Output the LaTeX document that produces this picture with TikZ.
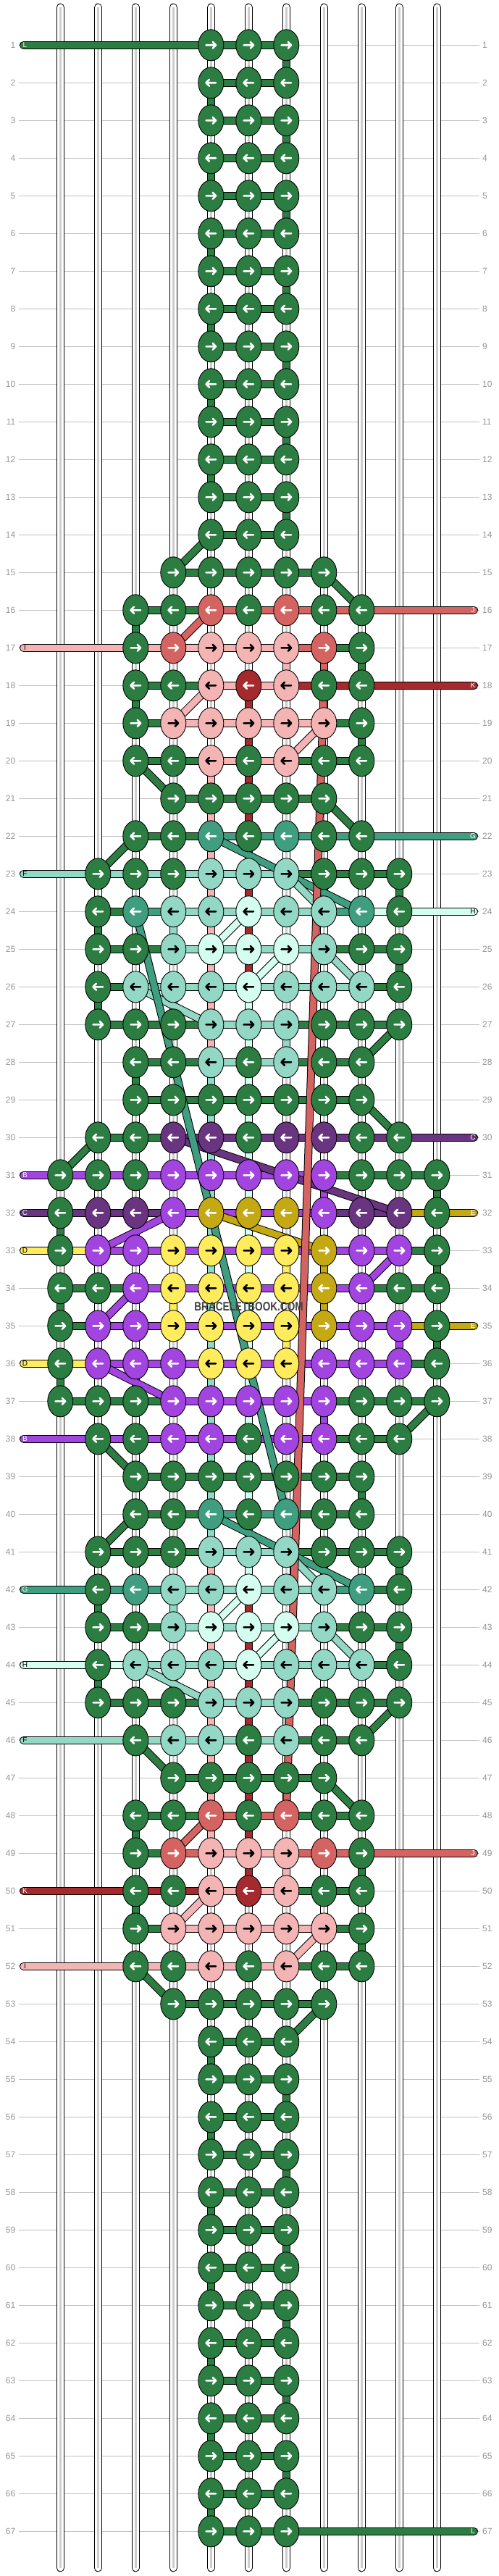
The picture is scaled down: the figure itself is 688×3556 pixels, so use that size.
\documentclass[tikz,border=0pt]{standalone}
\usepackage{fontspec}
\setmainfont{Liberation Sans}
\usetikzlibrary{shapes.geometric,calc}
\pgfdeclarelayer{back}
\pgfdeclarelayer{conn}
\pgfsetlayers{back,conn,main}
\definecolor{cG}{RGB}{44,125,66}
\definecolor{cR}{RGB}{212,100,98}
\definecolor{cP}{RGB}{245,180,180}
\definecolor{cK}{RGB}{165,42,46}
\definecolor{cT}{RGB}{64,158,128}
\definecolor{cF}{RGB}{147,216,196}
\definecolor{cH}{RGB}{212,255,240}
\definecolor{cC}{RGB}{106,53,128}
\definecolor{cB}{RGB}{162,68,224}
\definecolor{cE}{RGB}{196,168,20}
\definecolor{cD}{RGB}{255,236,92}
\colorlet{aG}{white}\colorlet{aR}{white}\colorlet{aP}{black}\colorlet{aK}{white}
\colorlet{aT}{white}\colorlet{aF}{black}\colorlet{aH}{black}\colorlet{aC}{white}
\colorlet{aB}{white}\colorlet{aE}{white}\colorlet{aD}{black}
\definecolor{gridgray}{RGB}{192,192,192}
\definecolor{labgray}{RGB}{150,150,150}
\definecolor{strgray}{RGB}{205,205,205}
\definecolor{wmgray}{RGB}{64,64,64}
\tikzset{
  knot/.style={ellipse,draw=black,line width=0.9pt,minimum width=35pt,minimum height=43pt,inner sep=0pt,outer sep=0pt},
  arrowmark/.style={line width=2.6pt,line cap=round,line join=round},
  conn/.style={draw=black,line width=1pt,double=c#1,double distance=9pt},
  rowlab/.style={text=labgray,font=\fontsize{12}{12}\selectfont,inner sep=0pt},
  sidelab/.style={font=\fontsize{10}{10}\selectfont,inner sep=0pt},
  gridline/.style={draw=gridgray,line width=1pt}
}
\newcommand\krow[3]{%
  \foreach \kc [count=\cc] in {#2}{%
    \if\kc.\else
      \node[knot,fill=c\kc] (k#1-\cc) at ({83.3+52*(\cc-1)},{62.3+52*(#1-1)}) {};
      \ifodd#1\relax\def\dd{1}\else\def\dd{-1}\fi
      \draw[arrowmark,draw=a\kc] (k#1-\cc.center) +(-6.8*\dd,0) -- +(6.8*\dd,0) +(2.4*\dd,-4.4) -- +(6.8*\dd,0) -- +(2.4*\dd,4.4);
    \fi}%
  \begin{pgfonlayer}{conn}%
    \foreach \sg [count=\cc] in {#3}{%
      \if\sg.\else
        \pgfmathtruncatemacro\cn{\cc+1}%
        \draw[conn=\sg] (k#1-\cc.center) -- (k#1-\cn.center);
      \fi}%
  \end{pgfonlayer}}
\begin{document}
\begin{tikzpicture}[x=1pt,y=-1pt]
\useasboundingbox (0,0) rectangle (688,3556);
\begin{pgfonlayer}{back}
\fill[white] (0,0) rectangle (688,3556);
\foreach \r in {1,...,67}{
  \pgfmathsetmacro\yy{62.3+52*(\r-1)}
  \draw[gridline] (26,\yy) -- (662,\yy);
  \node[rowlab,anchor=east] (ll\r) at (21.5,\yy) {\r};
  \node[rowlab,anchor=west] (rl\r) at (666,\yy) {\r};
}
\foreach \cc in {1,...,11}{
  \pgfmathsetmacro\xx{83.3+52*(\cc-1)}
  \draw[line width=11pt,line cap=round] (\xx,10.2) -- (\xx,3544.8);
  \draw[white,line width=9pt,line cap=round] (\xx,10.2) -- (\xx,3544.8);
  \draw[strgray,line width=3pt] (\xx,10.2) -- (\xx,3544.8);
}
\end{pgfonlayer}
% rows
\foreach \r in {1,...,14}{\krow{\r}{.,.,.,.,G,G,G,.,.,.,.}{.,.,.,.,G,G,.,.,.,.}}
\krow{15}{.,.,.,G,G,G,G,G,.,.,.}{.,.,.,G,G,G,G,.,.,.}
\krow{16}{.,.,G,G,R,G,R,G,G,.,.}{.,.,G,G,R,R,R,R,.,.}
\krow{17}{.,.,G,R,P,P,P,R,G,.,.}{.,.,P,P,P,P,R,G,.,.}
\krow{18}{.,.,G,G,P,K,P,G,G,.,.}{.,.,G,G,P,P,K,K,.,.}
\krow{19}{.,.,G,P,P,P,P,P,G,.,.}{.,.,G,P,P,P,P,G,.,.}
\krow{20}{.,.,G,G,P,G,P,G,G,.,.}{.,.,G,G,P,P,G,G,.,.}
\krow{21}{.,.,.,G,G,G,G,G,.,.,.}{.,.,.,G,G,G,G,.,.,.}
\krow{22}{.,.,G,G,T,G,T,G,G,.,.}{.,.,G,G,T,T,T,T,.,.}
\krow{23}{.,G,G,G,F,F,F,G,G,G,.}{.,F,F,F,F,F,G,G,G,.}
\krow{24}{.,G,T,F,F,H,F,F,T,G,.}{.,G,T,F,F,F,F,T,H,.}
\krow{25}{.,G,G,F,H,H,H,F,G,G,.}{.,G,G,F,F,F,F,G,G,.}
\krow{26}{.,G,F,F,F,H,F,F,F,G,.}{.,G,F,F,F,F,F,F,G,.}
\krow{27}{.,G,G,G,F,F,F,G,G,G,.}{.,G,G,G,F,F,G,G,G,.}
\krow{28}{.,.,G,G,F,G,F,G,G,.,.}{.,.,G,G,F,F,G,G,.,.}
\krow{29}{.,.,G,G,G,G,G,G,G,.,.}{.,.,G,G,G,G,G,G,.,.}
\krow{30}{.,G,G,C,C,G,C,C,G,G,.}{.,G,G,C,C,C,C,C,C,.}
\krow{31}{G,G,G,B,B,B,B,B,G,G,G}{B,B,B,B,B,B,B,G,G,G}
\krow{32}{G,C,C,B,E,E,E,B,C,C,G}{C,C,C,B,B,B,B,C,C,E}
\krow{33}{G,B,B,D,D,D,D,E,B,B,G}{D,B,B,B,B,B,B,B,B,G}
\krow{34}{G,G,B,D,D,D,D,E,B,G,G}{G,G,B,B,B,B,B,B,G,G}
\krow{35}{G,B,B,D,D,D,D,E,B,B,G}{G,B,B,B,B,B,B,B,B,E}
\krow{36}{G,B,B,B,D,D,D,B,B,B,G}{D,B,B,B,B,B,B,B,B,G}
\krow{37}{G,G,G,B,B,B,B,B,G,G,G}{G,G,G,B,B,B,B,G,G,G}
\krow{38}{.,G,G,B,B,G,B,B,G,G,.}{.,B,B,B,B,B,B,G,G,.}
\krow{39}{.,.,G,G,G,G,G,G,G,.,.}{.,.,G,G,G,G,G,G,.,.}
\krow{40}{.,.,G,G,T,G,T,G,G,.,.}{.,.,G,G,T,T,G,G,.,.}
\krow{41}{.,G,G,G,F,F,F,G,G,G,.}{.,G,G,G,F,F,G,G,G,.}
\krow{42}{.,G,T,F,F,H,F,F,T,G,.}{.,T,T,F,F,F,F,T,G,.}
\krow{43}{.,G,G,F,H,H,H,F,G,G,.}{.,G,G,F,F,F,F,G,G,.}
\krow{44}{.,G,F,F,F,H,F,F,F,G,.}{.,H,F,F,F,F,F,F,G,.}
\krow{45}{.,G,G,G,F,F,F,G,G,G,.}{.,G,G,G,F,F,G,G,G,.}
\krow{46}{.,.,G,F,F,G,F,G,G,.,.}{.,.,F,F,F,F,G,G,.,.}
\krow{47}{.,.,.,G,G,G,G,G,.,.,.}{.,.,.,G,G,G,G,.,.,.}
\krow{48}{.,.,G,G,R,G,R,G,G,.,.}{.,.,G,G,R,R,G,G,.,.}
\krow{49}{.,.,G,R,P,P,P,R,G,.,.}{.,.,G,R,P,P,R,R,.,.}
\krow{50}{.,.,G,G,P,K,P,G,G,.,.}{.,.,K,K,P,P,G,G,.,.}
\krow{51}{.,.,G,P,P,P,P,P,G,.,.}{.,.,G,P,P,P,P,G,.,.}
\krow{52}{.,.,G,G,P,G,P,G,G,.,.}{.,.,P,P,P,P,G,G,.,.}
\krow{53}{.,.,.,G,G,G,G,G,.,.,.}{.,.,.,G,G,G,G,.,.,.}
\foreach \r in {54,...,67}{\krow{\r}{.,.,.,.,G,G,G,.,.,.,.}{.,.,.,.,G,G,.,.,.,.}}
\begin{pgfonlayer}{conn}
% vertical runs in the plain bands
\foreach \ra in {1,...,13,54,55,...,66}{
  \pgfmathtruncatemacro\rb{\ra+1}
  \ifodd\ra\relax\def\vc{7}\else\def\vc{5}\fi
  \draw[conn=G] (k\ra-\vc.center) -- (k\rb-\vc.center);
}
% vertical segments
\foreach \ra/\cc/\kc in {16/3/G,17/7/P,17/8/R,17/9/G,18/3/G,18/6/K,19/6/K,19/9/G,
  20/5/P,20/6/K,21/5/P,21/6/K,22/5/P,22/6/K,23/5/P,23/6/K,23/10/G,
  24/2/G,24/4/F,24/5/P,24/6/K,25/5/P,25/6/K,25/10/G,26/2/G,26/5/P,26/6/H,
  27/5/P,27/6/H,27/7/F,28/3/G,28/5/F,28/6/H,29/5/F,29/6/H,30/5/F,30/6/H,
  31/5/F,31/6/H,31/8/B,31/11/G,32/1/G,32/5/F,32/6/H,
  33/5/F,33/6/H,33/7/D,33/8/E,33/11/G,34/1/G,34/4/D,34/5/F,34/6/H,34/8/E,
  35/5/F,35/6/H,35/7/D,35/10/B,35/11/G,36/1/G,36/5/F,36/6/H,
  37/5/F,37/6/H,37/8/B,38/5/F,38/6/H,39/5/F,39/6/H,39/9/G,40/5/F,40/6/H,
  41/5/P,41/6/H,41/10/G,42/2/G,42/4/F,42/5/P,42/6/K,43/5/P,43/6/K,43/10/G,
  44/2/G,44/5/P,44/6/K,45/5/P,45/6/K,45/7/F,46/5/P,46/6/K,47/5/P,47/6/K,
  48/3/G,48/5/P,48/6/K,49/6/K,49/7/P,49/9/G,50/3/G,51/9/G}{
  \pgfmathtruncatemacro\rb{\ra+1}
  \draw[conn=\kc] (k\ra-\cc.center) -- (k\rb-\cc.center);
}
% diagonal segments
\foreach \ra/\ca/\rb/\cb/\kc in {14/5/15/4/G,15/8/16/9/G,20/3/21/4/G,21/8/22/9/G,
  22/3/23/2/G,27/10/28/9/G,29/9/30/10/G,30/2/31/1/G,37/11/38/10/G,38/2/39/3/G,
  40/3/41/2/G,45/10/46/9/G,46/3/47/4/G,47/8/48/9/G,52/3/53/4/G,53/8/54/7/G,
  16/5/17/4/R,48/5/49/4/R,
  18/5/19/4/P,19/8/20/7/P,50/5/51/4/P,51/8/52/7/P,
  22/5/23/7/T,23/7/24/9/T,40/5/41/7/T,41/7/42/9/T,
  23/7/24/8/F,25/8/26/9/F,26/3/27/5/F,41/7/42/8/F,43/8/44/9/F,44/3/45/5/F,
  24/6/25/5/H,25/7/26/6/H,42/6/43/5/H,43/7/44/6/H,
  30/4/32/10/C,
  32/4/33/2/B,33/10/34/9/B,34/3/35/2/B,36/2/37/4/B,
  32/5/33/8/E}{
  \draw[conn=\kc] (k\ra-\ca.center) -- (k\rb-\cb.center);
}
% long runs
\draw[conn=R] (k18-8.center) -- (k48-7.center);
\draw[conn=T] (k24-3.center) -- (k40-7.center);
% side strings, left
\foreach \ra/\cc/\kc in {1/5/G,17/3/P,23/2/F,31/1/B,32/1/C,33/1/D,
  36/1/D,38/2/B,42/2/T,44/2/H,46/3/F,50/3/K,52/3/P}{
  \pgfmathsetmacro\yy{62.3+52*(\ra-1)}
  \coordinate (sl\ra) at (32.5,\yy);
  \draw[conn=\kc,line cap=round] (sl\ra) -- (k\ra-\cc.center);
}
% side strings, right
\foreach \ra/\cc/\kc in {16/9/R,18/9/K,22/9/T,24/10/H,30/10/C,
  32/11/E,35/11/E,49/9/R,67/7/G}{
  \pgfmathsetmacro\yy{62.3+52*(\ra-1)}
  \coordinate (sr\ra) at (654.5,\yy);
  \draw[conn=\kc,line cap=round] (sr\ra) -- (k\ra-\cc.center);
}
\end{pgfonlayer}
% side letters
\foreach \ra/\kc/\lab in {1/G/L,17/P/I,23/F/F,31/B/B,32/C/C,33/D/D,
  36/D/D,38/B/B,42/T/G,44/H/H,46/F/F,50/K/K,52/P/I}{
  \node[sidelab,text=a\kc] (slt\ra) at ($(sl\ra)+(2,0)$) {\lab};
}
\foreach \ra/\kc/\lab in {16/R/J,18/K/K,22/T/G,24/H/H,30/C/C,32/E/E,35/E/E,49/R/J,67/G/L}{
  \node[sidelab,text=a\kc] (srt\ra) at ($(sr\ra)+(-1.5,0)$) {\lab};
}
\node[text=wmgray,font=\fontsize{17}{17}\selectfont\bfseries,inner sep=0pt] (wm) at (343.5,1804) {\scalebox{0.8}[1]{BRACELETBOOK.COM}};
\end{tikzpicture}
\end{document}
